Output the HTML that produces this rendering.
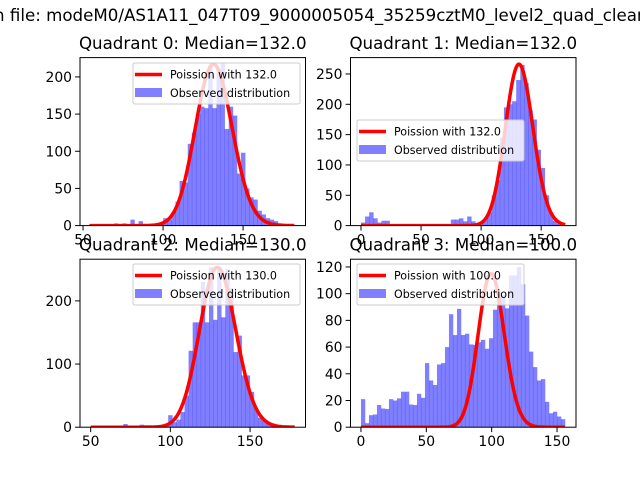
<!DOCTYPE html>
<html><head><meta charset="utf-8"><style>
html,body{margin:0;padding:0;background:#fff;overflow:hidden}
svg{display:block;font-family:"DejaVu Sans","Liberation Sans",sans-serif}
</style></head><body>
<svg id="fig" width="640" height="480" viewBox="0 0 640 480">
<text x="-6" y="21" font-size="16.67" fill="#000">n file: modeM0/AS1A11_047T09_9000005054_35259cztM0_level2_quad_clean</text>
</svg>
<script>
// Panel data
const medians = [132.0, 132.0, 130.0, 100.0];
const peakHeights = [217, 266, 253, 115];
const binStarts = [54, 0, 50, 0];
const binWidths = [2.56, 3.4, 2.56, 3.06];
const curveRanges = [[54, 182], [0, 170], [50, 178], [0, 156]];
const counts0 = [1,1,1,1,2,1,3,2,3,1,8,1,6,1,2,2,1,2,10,8,18,32,60,58,110,125,150,160,158,215,158,210,218,130,160,148,70,98,50,38,35,20,15,10,8,6,3,2,1,1];
const counts1 = [5,15,22,12,5,8,8,2,2,2,2,2,2,2,2,2,2,2,2,2,2,2,10,10,12,7,15,7,2,5,12,22,50,75,145,195,200,205,240,265,235,190,175,125,95,50,22,8,3,1];
const counts2 = [1,1,1,1,1,1,1,1,5,1,1,1,4,3,3,1,2,2,4,19,8,12,24,50,121,166,166,230,166,253,170,253,174,250,220,119,145,82,82,56,30,15,10,5,3,3,2,1,1,0];
const counts3 = [21,3,9,9.5,16.6,14,13.6,21,20,21.6,26.6,26.6,17,16.6,25,22,48,35,31.6,47,48,60,84.6,69,88.6,69,70,62,61.6,63.6,65.4,58.7,66.6,88,100,99,89,113.6,113.6,120,107,83.6,56.6,45,35,36,19,10.4,11.6,8,6];
const allCounts = [counts0, counts1, counts2, counts3];
const xTicks = [[50,100,150],[0,50,100,150],[50,100,150],[0,50,100,150]];
const yTicks = [[0,50,100,150,200],[0,50,100,150,200,250],[0,100,200],[0,20,40,60,80,100,120]];
const xLims = [[48.1,189],[-8.75,179],[43.3,184.8],[-8,164.5]];
const yLims = [[0,226],[0,277],[0,266],[0,125.8]];
const legendPos = [[133,63],[357,120],[133,264],[357,264]];

const NS = "http://www.w3.org/2000/svg";
const svg = document.getElementById('fig');
function mk(tag, attrs, parent){
  const e = document.createElementNS(NS, tag);
  for (const k in attrs) e.setAttribute(k, attrs[k]);
  (parent||svg).appendChild(e);
  return e;
}
const boxes = [[80,57.6],[350.5,57.6],[80,259.2],[350.5,259.2]];
const W = 225.5, H = 168;
function lgamma(n){ let s=0; for(let i=2;i<=n;i++) s+=Math.log(i); return s; }

for (let p=0;p<4;p++){
  const [bx,by] = boxes[p];
  const g = mk('g', {});
  
  
  const xs = v => bx + (v - xLims[p][0]) / (xLims[p][1]-xLims[p][0]) * W;
  const ys = v => by + H - (v - yLims[p][0]) / (yLims[p][1]-yLims[p][0]) * H;
  const cp = mk('clipPath', {id:'clip'+p}, g);
  mk('rect', {x:bx,y:by,width:W,height:H}, cp);
  const plot = mk('g', {'clip-path':'url(#clip'+p+')'}, g);
  const c = allCounts[p];
  for (let i=0;i<c.length;i++){
    const x0 = xs(binStarts[p] + i*binWidths[p]);
    const x1 = xs(binStarts[p] + (i+1)*binWidths[p]);
    const r = mk('rect', {x:x0, y:ys(c[i]), width:Math.max(0,x1-x0)+0.3, height:ys(0)-ys(c[i]), fill:'#0000ff', 'fill-opacity':0.5}, plot);
    
    
  }
  const lam = medians[p];
  const peakK = Math.floor(lam);
  const peakPmf = Math.exp(peakK*Math.log(lam) - lam - lgamma(peakK));
  let d = '';
  for (let k=curveRanges[p][0]; k<=curveRanges[p][1]; k++){
    const pmf = Math.exp(k*Math.log(lam) - lam - lgamma(k));
    const y = peakHeights[p] * pmf / peakPmf;
    d += (d ? 'L' : 'M') + xs(k).toFixed(2) + ',' + ys(y).toFixed(2);
  }
  const line = mk('path', {d:d, fill:'none', stroke:'#ff0000', 'stroke-width':3.5, 'stroke-linejoin':'round'}, plot);
  
  
  const fr = mk('rect', {x:bx,y:by,width:W,height:H,fill:'none',stroke:'#000','stroke-width':1}, g);
  
  
  for (const t of xTicks[p]){
    const x = xs(t);
    mk('line', {x1:x,x2:x,y1:by+H,y2:by+H+4.9,stroke:'#000','stroke-width':1}, g);
    const tx = mk('text', {x:x, y:by+H+19, 'font-size':13.9, 'text-anchor':'middle'}, g);
    tx.textContent = t;
    
    
  }
  for (const t of yTicks[p]){
    const y = ys(t);
    mk('line', {x1:bx-4.9,x2:bx,y1:y,y2:y,stroke:'#000','stroke-width':1}, g);
    const tx = mk('text', {x:bx-8, y:y+5, 'font-size':13.9, 'text-anchor':'end'}, g);
    tx.textContent = t;
    
    
  }
  const ti = mk('text', {x:bx+W/2, y:by-8.5, 'font-size':16.67, 'text-anchor':'middle'}, g);
  ti.textContent = 'Quadrant ' + p + ': Median=' + medians[p].toFixed(1);
  
  
  const [lx,ly] = legendPos[p];
  const lg = mk('g', {}, g);
  
  
  mk('rect', {x:lx,y:ly,width:167,height:41,rx:2,fill:'#fff','fill-opacity':0.8,stroke:'#cccccc','stroke-width':1}, lg);
  mk('line', {x1:lx+2,x2:lx+29,y1:ly+11.5,y2:ly+11.5,stroke:'#ff0000','stroke-width':3.5}, lg);
  const t1 = mk('text', {x:lx+37, y:ly+15.5, 'font-size':11.1}, lg);
  t1.textContent = 'Poission with ' + medians[p].toFixed(1);
  
  
  mk('rect', {x:lx+2,y:ly+25,width:27,height:9,fill:'#0000ff','fill-opacity':0.5}, lg);
  const t2 = mk('text', {x:lx+37, y:ly+34, 'font-size':11.1}, lg);
  t2.textContent = 'Observed distribution';
  
  
}
</script>
</body></html>
